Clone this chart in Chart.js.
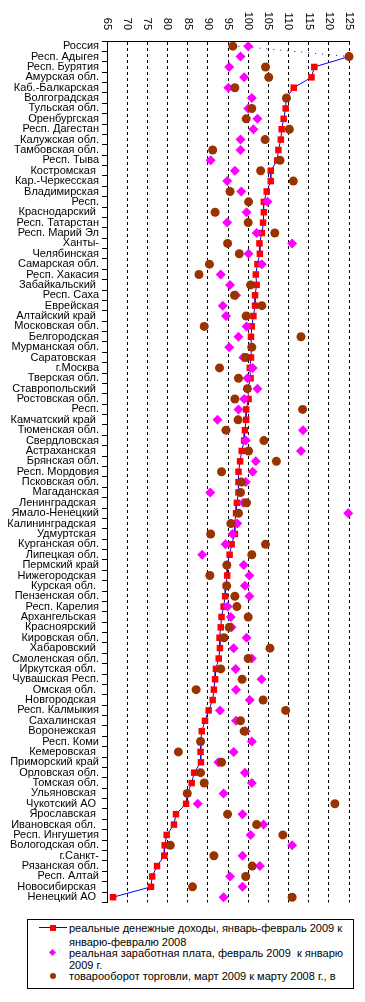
<!DOCTYPE html>
<html>
<head>
<meta charset="utf-8">
<script src="https://cdn.jsdelivr.net/npm/chart.js@4/dist/chart.umd.min.js"></script>
<style>
  body { margin: 0; background: #fff; font-family: "Liberation Sans", Arial, sans-serif; }
  #wrap { position: absolute; left: 0; top: 0; width: 365px; height: 912px; }
  #legend { position: absolute; left: 27px; top: 919px; width: 325px; height: 68px; border: 1px solid #000; font-size: 11px; color: #000; }
  #legend .t { position: absolute; left: 41px; white-space: nowrap; line-height: 12px; }
  #legend .ln { position: absolute; left: 11px; width: 28px; height: 1px; background: #0000ff; top: 7px; }
  #legend .sq { position: absolute; left: 22px; top: 5px; width: 6px; height: 6px; background: #ff0000; }
  #legend .dm { position: absolute; left: 22px; top: 30px; width: 5px; height: 5px; background: #ff00ff; transform: rotate(45deg); }
  #legend .ci { position: absolute; left: 22px; top: 53px; width: 6px; height: 6px; background: #993300; border-radius: 3px; }
</style>
</head>
<body>
<div id="wrap"><canvas id="chart"></canvas></div>
<div id="legend">
  <div class="ln"></div><div class="sq"></div>
  <div class="t" style="top:2px">реальные денежные доходы, январь-февраль 2009 к</div>
  <div class="t" style="top:16px">январю-февралю 2008</div>
  <div class="dm"></div>
  <div class="t" style="top:27px">реальная заработная плата, февраль 2009&nbsp; к январю</div>
  <div class="t" style="top:39px">2009 г.</div>
  <div class="ci"></div>
  <div class="t" style="top:50px">товарооборот торговли, март 2009 к марту 2008 г., в</div>
</div>
<script>
const regions = ['Россия', 'Респ. Адыгея', 'Респ. Бурятия', 'Амурская обл.', 'Каб.-Балкарская', 'Волгоградская',
  'Тульская обл.', 'Оренбургская', 'Респ. Дагестан', 'Калужская обл.', 'Тамбовская обл.', 'Респ. Тыва',
  'Костромская ', 'Кар.-Черкесская', 'Владимирская', 'Респ.', 'Краснодарский ', 'Респ. Татарстан',
  'Респ. Марий Эл', 'Ханты-', 'Челябинская', 'Самарская обл.', 'Респ. Хакасия', 'Забайкальский ',
  'Респ. Саха', 'Еврейская', 'Алтайский край ', 'Московская обл.', 'Белгородская', 'Мурманская обл.',
  'Саратовская ', 'г.Москва', 'Тверская обл.', 'Ставропольский ', 'Ростовская обл.', 'Респ.',
  'Камчатский край ', 'Тюменская обл.', 'Свердловская', 'Астраханская ', 'Брянская обл.', 'Респ. Мордовия',
  'Псковская обл.', 'Магаданская', 'Ленинградская ', 'Ямало-Ненецкий', 'Калининградская ', 'Удмуртская ',
  'Курганская обл.', 'Липецкая обл.', 'Пермский край', 'Нижегородская ', 'Курская обл. ', 'Пензенская обл.',
  'Респ. Карелия', 'Архангельская ', 'Красноярский ', 'Кировская обл.', 'Хабаровский ', 'Смоленская обл.',
  'Иркутская обл. ', 'Чувашская Респ.', 'Омская обл. ', 'Новгородская ', 'Респ. Калмыкия', 'Сахалинская ',
  'Воронежская ', 'Респ. Коми', 'Кемеровская ', 'Приморский край', 'Орловская обл.', 'Томская обл.',
  'Ульяновская ', 'Чукотский АО ', 'Ярославская ', 'Ивановская обл. ', 'Респ. Ингушетия', 'Вологодская обл.',
  'г.Санкт-', 'Рязанская обл.', 'Респ. Алтай', 'Новосибирская ', 'Ненецкий АО ']

// реальные денежные доходы
const income = [97.6, 125, 116.4, 115.7, 111.3, 109.4, 109.3, 108.8, 108.3, 108.1, 107.5, 107.2,
  105.6, 105.6, 104.6, 103.9, 103.9, 103.7, 103.4, 102.8, 102.9, 102.3, 101.9, 102.1,
  101.7, 101.7, 101.3, 100.9, 100.7, 100.8, 100.7, 100.4, 100.6, 99.9, 100.1, 99.5,
  99.5, 99.2, 99.0, 98.4, 98.0, 97.6, 97.6, 97.6, 97.2, 97.0, 96.6, 96.7,
  95.9, 95.4, 94.8, 94.8, 94.5, 94.3, 93.9, 93.4, 93.2, 92.9, 93.0, 92.7,
  92.0, 91.8, 91.5, 91.2, 90.2, 89.3, 88.5, 88.2, 88.2, 88.3, 86.6, 86.0,
  84.9, 84.6, 82.1, 81.6, 79.8, 79.3, 79.2, 77.4, 76.2, 75.9, 66.5]

// реальная заработная плата
const wage = [100.0, 98.1, 95.3, 99.0, 95.1, 100.9, 100.0, 102.3, 101.3, 98.1, 98.1, 90.7,
  96.7, 94.8, 98.3, 104.8, 99.6, 94.8, 102.1, 110.9, 100.1, 103.4, 93.2, 95.5,
  97.0, 93.7, 94.5, 99.6, 97.6, 95.3, 98.8, 101.1, 99.8, 102.3, 99.0, 97.6,
  92.4, 113.6, 99.4, 113.1, 101.9, 101.1, 99.4, 90.6, 98.8, 124.8, 97.3, 96.1,
  94.4, 88.6, 98.9, 100.3, 99.2, 100.3, 94.9, 95.7, 95.9, 99.6, 96.4, 100.9,
  96.9, 103.3, 97.0, 100.4, 93.0, 97.0, 99.4, 100.9, 96.4, 92.6, 99.2, 100.9,
  93.9, 87.5, 98.6, 103.8, 100.6, 110.9, 98.6, 102.9, 95.5, 98.6, 93.9]

// товарооборот торговли
const trade = [96.2, 125.0, 104.3, 105.1, 96.7, 109.5, 100.9, 99.5, 110.2, 104.2, 91.2, 107.9,
  103.1, 111.2, 95.5, 100.1, 91.8, 100.0, 106.6, 94.9, 97.8, 90.4, 87.8, 100.6,
  96.6, 103.4, 99.5, 89.1, 113.1, 100.9, 99.4, 92.9, 97.6, 99.8, 96.7, 113.5,
  97.5, 94.5, 103.9, 100.1, 107.0, 93.4, 98.3, 98.1, 99.6, 97.6, 95.7, 90.7,
  104.3, 100.9, 94.7, 90.5, 94.7, 96.7, 97.2, 100.0, 95.3, 94.0, 105.4, 100.0,
  93.2, 98.5, 87.1, 103.7, 109.3, 98.1, 99.0, 88.2, 82.7, 93.4, 88.2, 89.1,
  84.9, 121.5, 94.9, 102.1, 108.6, 80.7, 91.5, 101.0, 99.4, 86.2, 110.9]

const xTicks = [65, 70, 75, 80, 85, 90, 95, 100, 105, 110, 115, 120, 125]

const fontFam = '"Liberation Sans", Arial, sans-serif'

// подписи верхней оси, повёрнутые по часовой стрелке
const topLabels = {
  id: 'topLabels',
  afterDraw(chart) {
    const sc = chart.scales.x
    const ctx = chart.ctx
    ctx.save()
    ctx.font = '11px ' + fontFam
    ctx.fillStyle = '#000'
    ctx.textAlign = 'right'
    ctx.textBaseline = 'middle'
    xTicks.forEach(v => {
      ctx.save()
      ctx.translate(sc.getPixelForValue(v), 30)
      ctx.rotate(Math.PI / 2)
      ctx.fillText(String(v), 0, 0)
      ctx.restore()
    })
    ctx.restore()
  }
}

new Chart(document.getElementById('chart'), {
  type: 'line',
  data: {
    labels: regions,
    datasets: [
      {
        label: 'товарооборот торговли',
        data: trade,
        showLine: false,
        pointStyle: 'circle',
        pointRadius: 4.5,
        pointBackgroundColor: '#993300',
        pointBorderColor: '#993300',
        pointBorderWidth: 0,
        clip: false,
        order: 0
      },
      {
        label: 'реальная заработная плата',
        data: wage,
        showLine: false,
        pointStyle: 'rectRot',
        pointRadius: 5,
        pointBackgroundColor: '#ff00ff',
        pointBorderColor: '#ff00ff',
        pointBorderWidth: 0,
        clip: false,
        order: 1
      },
      {
        label: 'реальные денежные доходы',
        data: income,
        borderColor: '#0000ff',
        borderWidth: 1,
        tension: 0,
        pointStyle: 'rect',
        pointRadius: c => c.dataIndex === 0 ? 0 : 4.6,
        pointBackgroundColor: '#ff0000',
        pointBorderColor: '#ff0000',
        pointBorderWidth: 0,
        segment: { borderDash: c => c.p0DataIndex === 0 ? [1, 6] : undefined },
        clip: false,
        order: 2
      }
    ]
  },
  options: {
    indexAxis: 'y',
    responsive: true,
    maintainAspectRatio: false,
    animation: false,
    events: [],
    layout: { padding: { top: 0, right: 16, bottom: 6, left: 0 } },
    scales: {
      x: {
        type: 'linear',
        position: 'top',
        min: 65,
        max: 125,
        ticks: { display: false, stepSize: 5 },
        grid: { color: '#000', lineWidth: 1, drawTicks: false },
        border: { color: '#000', dash: [3, 3] },
        afterFit: s => { s.height = 41 }
      },
      y: {
        type: 'category',
        offset: true,
        ticks: { autoSkip: false, color: '#000', font: { family: fontFam, size: 11 }, padding: 3 },
        grid: { offset: true, drawOnChartArea: false, color: '#000', tickLength: 5 },
        border: { color: '#000' },
        afterFit: s => { s.width = 107 }
      }
    },
    plugins: {
      legend: { display: false },
      tooltip: { enabled: false }
    }
  },
  plugins: [topLabels]
})
</script>
</body>
</html>
